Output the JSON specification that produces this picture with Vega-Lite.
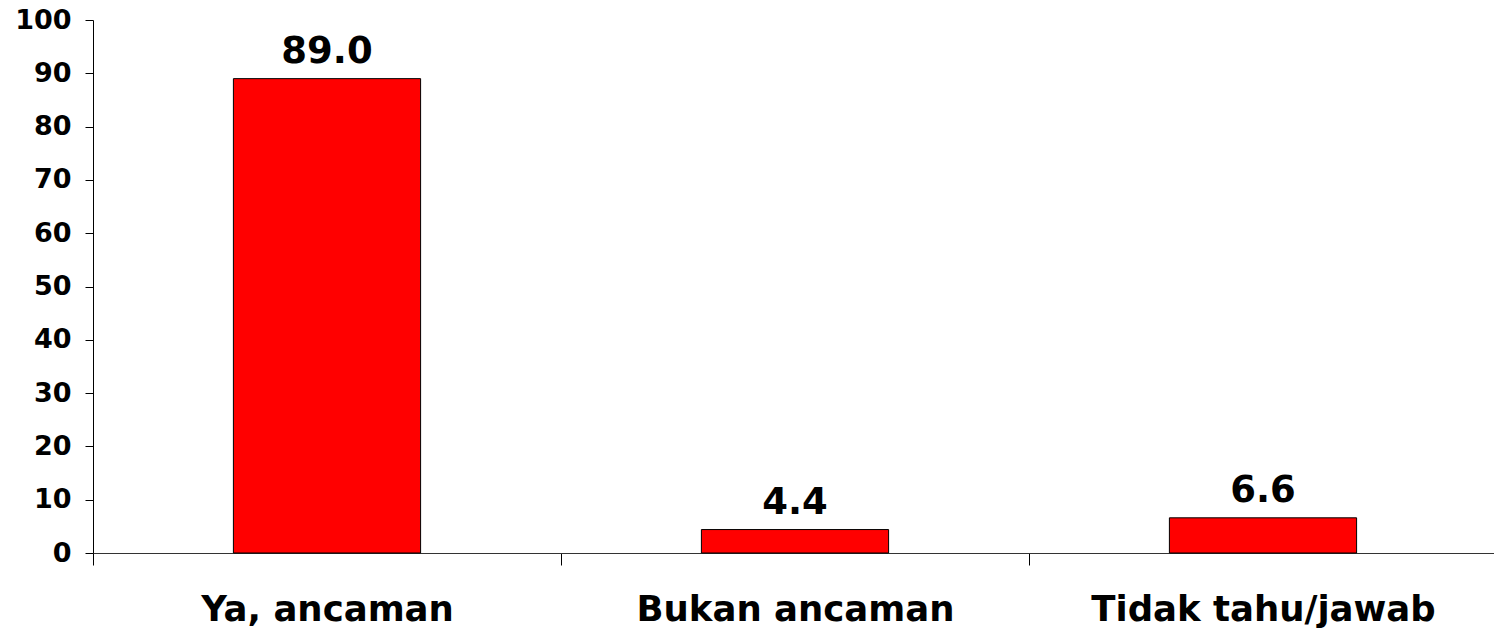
{
  "$schema": "https://vega.github.io/schema/vega-lite/v6.json",
  "autosize": "none",
  "padding": {"left": 93, "top": 20, "right": 0, "bottom": 76},
  "width": 1404,
  "height": 533,
  "background": "white",
  "config": {
    "view": {"stroke": null},
    "font": "DejaVu Sans"
  },
  "data": {
    "values": [
      {"kategori": "Ya, ancaman", "nilai": 89.0},
      {"kategori": "Bukan ancaman", "nilai": 4.4},
      {"kategori": "Tidak tahu/jawab", "nilai": 6.6}
    ]
  },
  "encoding": {
    "x": {
      "field": "kategori",
      "type": "nominal",
      "sort": null,
      "scale": {"paddingInner": 0, "paddingOuter": 0},
      "axis": {
        "title": null,
        "labelAngle": 0,
        "tickBand": "extent",
        "tickSize": 12,
        "tickColor": "black",
        "domainColor": "#333333",
        "labelFont": "DejaVu Sans",
        "labelFontWeight": "bold",
        "labelFontSize": 35.5,
        "labelColor": "black",
        "labelLimit": 0,
        "labelBaseline": "alphabetic",
        "labelPadding": 55
      }
    },
    "y": {
      "field": "nilai",
      "type": "quantitative",
      "scale": {"domain": [0, 100], "nice": false},
      "axis": {
        "title": null,
        "values": [0, 10, 20, 30, 40, 50, 60, 70, 80, 90, 100],
        "grid": false,
        "tickSize": 8,
        "tickColor": "black",
        "domainColor": "black",
        "labelFont": "DejaVu Sans",
        "labelFontWeight": "bold",
        "labelFontSize": 27,
        "labelColor": "black",
        "labelPadding": 14
      }
    }
  },
  "layer": [
    {
      "mark": {"type": "bar", "color": "#FF0000", "stroke": "black", "strokeWidth": 1, "width": {"band": 0.4}}
    },
    {
      "mark": {
        "type": "text",
        "font": "DejaVu Sans",
        "fontWeight": "bold",
        "fontSize": 37,
        "color": "black",
        "baseline": "alphabetic",
        "dy": -16
      },
      "encoding": {
        "text": {"field": "nilai", "type": "quantitative", "format": ".1f"}
      }
    }
  ]
}
